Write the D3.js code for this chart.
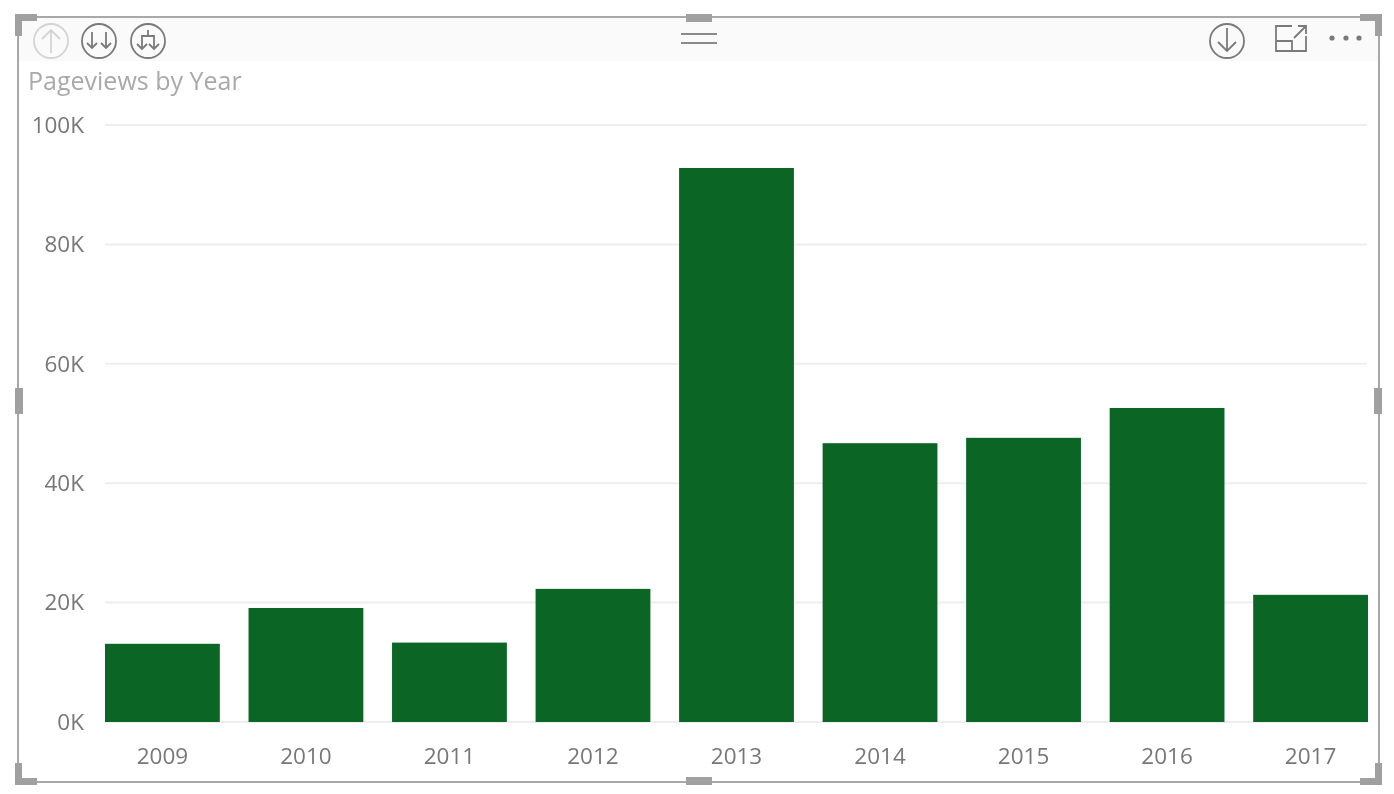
<!DOCTYPE html>
<html><head><meta charset="utf-8">
<script src="https://cdn.jsdelivr.net/npm/d3@7/dist/d3.min.js"></script>
<style>
html,body{margin:0;padding:0;background:#fff;overflow:hidden}
svg{display:block;filter:blur(0.6px)}
text{font-family:"Open Sans",sans-serif}
</style></head><body>
<svg id="c" width="1394" height="794"></svg>
<script>
const title = "Pageviews by Year";
const years = ["2009","2010","2011","2012","2013","2014","2015","2016","2017"];
const pageviews = [13100,19100,13300,22300,92800,46700,47600,52600,21300];
const yTicks = [0,20000,40000,60000,80000,100000];

const svg = d3.select("#c");
const grey = "#a0a0a0", txt = "#777", icon = "#7a7a7a";
const x = d3.scaleBand().domain(years).range([105,1368]).paddingInner(0.2).paddingOuter(0);
const y = d3.scaleLinear().domain([0,100000]).range([722,125]);

// header band and frame
svg.append("rect").attr("x",19).attr("y",18).attr("width",1359).attr("height",43).attr("fill","#fafafa");
svg.append("rect").attr("x",18).attr("y",17).attr("width",1361).attr("height",765)
  .attr("fill","none").attr("stroke","#a8a8a8").attr("stroke-width",2);

// grid
svg.append("g").selectAll("line").data(yTicks).join("line")
  .attr("x1",105).attr("x2",1367).attr("y1",d=>y(d)).attr("y2",d=>y(d))
  .attr("stroke","#eeeeee").attr("stroke-width",2);

// bars
svg.append("g").selectAll("rect").data(years).join("rect")
  .attr("x",d=>x(d)).attr("width",x.bandwidth())
  .attr("y",(d,i)=>y(pageviews[i])).attr("height",(d,i)=>y(0)-y(pageviews[i]))
  .attr("fill","#0b6525");

// axes via d3
const yAxis = d3.axisLeft(y).tickValues(yTicks).tickFormat(d=>(d/1000)+"K").tickSize(0).tickPadding(0);
const gy = svg.append("g").attr("transform","translate(84,0)").call(yAxis);
gy.select(".domain").remove();
gy.selectAll("text").attr("fill",txt).attr("font-size",22.5);

const xAxis = d3.axisBottom(x).tickSize(0).tickPadding(0);
const gx = svg.append("g").attr("transform","translate(0,748)").call(xAxis);
gx.select(".domain").remove();
gx.selectAll("text").attr("fill",txt).attr("font-size",22.5);

// title
svg.append("text").attr("x",28).attr("y",90).attr("fill","#a9a9a9").attr("font-size",25).text(title);

// resize handles
const hs = [[19,401,8,26],[1378,401,8,26]];
svg.append("g").selectAll("rect").data(hs).join("rect")
  .attr("x",d=>d[0]-d[2]/2).attr("y",d=>d[1]-d[3]/2).attr("width",d=>d[2]).attr("height",d=>d[3]).attr("fill",grey);
const hh = [[699,18,26,8],[699,781,26,8]];
svg.append("g").selectAll("rect").data(hh).join("rect")
  .attr("x",d=>d[0]-d[2]/2).attr("y",d=>d[1]-d[3]/2).attr("width",d=>d[2]).attr("height",d=>d[3]).attr("fill",grey);
// corners
const corners = ["M15,14H37V21H22V36H15Z","M1382,14H1360V21H1375V36H1382Z","M15,785H37V778H22V763H15Z","M1382,785H1360V778H1375V763H1382Z"];
svg.append("g").selectAll("path").data(corners).join("path").attr("d",d=>d).attr("fill",grey);

// toolbar icons
const ic = svg.append("g").attr("fill","none").attr("stroke",icon).attr("stroke-width",1.8);
const circ = (cx,cy,col)=>ic.append("circle").attr("cx",cx).attr("cy",cy).attr("r",17).attr("stroke",col);
circ(51,41,"#d4d4d4");
ic.append("path").attr("d","M51,53V30M42,39L51,30L60,39").attr("stroke","#d4d4d4");
circ(99,41,icon);
ic.append("path").attr("d","M92,32V48M87,43L92,48L97,43M106,32V48M101,43L106,48L111,43");
circ(148,41,icon);
ic.append("path").attr("d","M142,48V36H154V48M137,44L142,49L147,44M149,44L154,49L159,44M148,36V30");
circ(1227,41,icon);
ic.append("path").attr("d","M1227,28V51M1218,42L1227,51L1236,42");
ic.append("path").attr("d","M1292,26H1276V51H1306V36M1276,41H1292V51M1294,38L1306,26M1298,26H1306V34");
svg.append("g").selectAll("circle").data([1332,1346,1359]).join("circle")
  .attr("cx",d=>d).attr("cy",38).attr("r",2.6).attr("fill",icon);
svg.append("g").selectAll("line").data([34,43]).join("line")
  .attr("x1",681).attr("x2",717).attr("y1",d=>d).attr("y2",d=>d).attr("stroke","#8a8a8a").attr("stroke-width",2);
</script></body></html>
